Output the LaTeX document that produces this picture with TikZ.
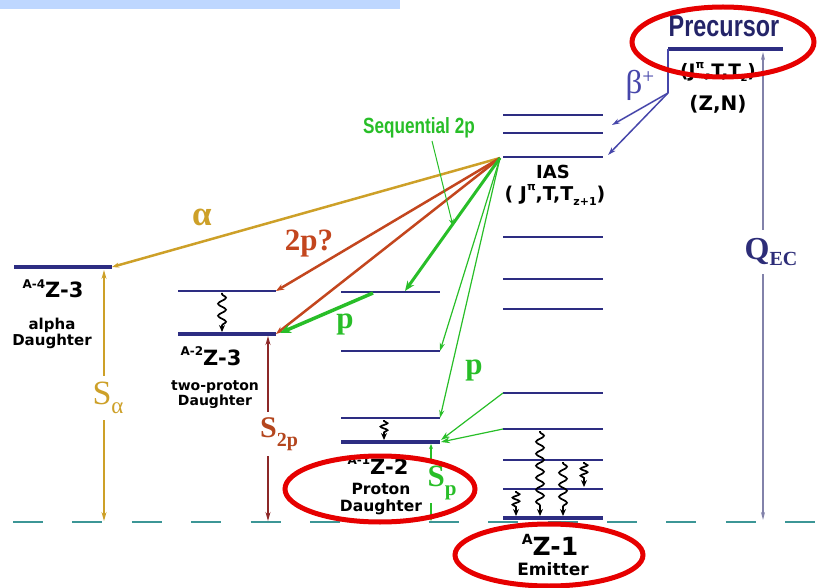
\documentclass[tikz,border=0pt]{standalone}
\usepackage{fontspec}
\setmainfont{Liberation Serif}
\newfontfamily\labfont{DejaVu Sans}
\newfontfamily\narrowfont[FakeStretch=0.78]{Liberation Sans}
\usetikzlibrary{arrows.meta,decorations.pathmorphing}
\definecolor{navy}{RGB}{45,45,130}
\definecolor{teal2}{RGB}{60,150,150}
\definecolor{gold2}{RGB}{205,160,40}
\definecolor{rbrown}{RGB}{195,70,30}
\definecolor{dred}{RGB}{140,40,40}
\definecolor{stwo}{RGB}{180,70,30}
\definecolor{grn}{RGB}{40,190,40}
\definecolor{bblue}{RGB}{70,70,170}
\definecolor{qline}{RGB}{130,130,170}
\definecolor{qtext}{RGB}{45,45,120}
\definecolor{ered}{RGB}{230,0,0}
\definecolor{barblue}{RGB}{190,215,255}
\newcommand\upp[3]{\raisebox{#1}{\fontsize{#2}{#2}\selectfont #3}}
\tikzset{
  lev/.style={navy, line width=2.7pt},
  gnd/.style={navy, line width=4.5pt},
  wavy/.style={black, line width=1.7pt, decorate,
    decoration={snake, amplitude=4pt, segment length=12pt, pre length=1pt, post length=6pt},
    -{Stealth[length=7pt,width=6pt]}},
  wavys/.style={wavy, decoration={snake, amplitude=3.5pt, segment length=7pt, pre length=1pt, post length=6pt}},
  lab/.style={font=\labfont\bfseries, inner sep=0pt, text=black},
  greek/.style={font=\bfseries, inner sep=1pt},
  ellred/.style={ered, line width=5pt},
}
\begin{document}
\begin{tikzpicture}[x=1pt,y=-1pt]
\useasboundingbox (0,0) rectangle (817,588);
\fill[barblue] (0,0) rectangle (400,9);

% baseline
\coordinate (b0) at (13,522);
\coordinate (b1) at (817,522);
\draw[teal2, line width=2pt, dash pattern=on 30pt off 29.4pt] (b0) -- (b1);

% levels: alpha daughter
\draw[gnd] (14,267) coordinate (al) -- (112,267) coordinate (ar);
% two-proton daughter
\draw[lev] (178,291) coordinate (t1l) -- (276,291) coordinate (t1r);
\draw[gnd] (178,334) coordinate (t0l) -- (276,334) coordinate (t0r);
% proton daughter
\draw[lev] (341,292) coordinate (p3l) -- (440,292) coordinate (p3r);
\draw[lev, line width=2pt] (341,351) coordinate (p2l) -- (440,351) coordinate (p2r);
\draw[lev] (341,418) coordinate (p1l) -- (440,418) coordinate (p1r);
\draw[gnd] (341,442) coordinate (p0l) -- (440,442) coordinate (p0r);
% emitter column
\foreach \y/\n in {115/e12,133/e11,157/ias,237/e9,279/e8,309/e7,393/e6,429/e5,460/e4,489/e3}{
  \draw[lev] (503,\y) coordinate (\n l) -- (603,\y) coordinate (\n r);
}
\draw[gnd] (503,518) coordinate (e0l) -- (603,518) coordinate (e0r);
% precursor
\draw[navy, line width=4pt] (668,49) coordinate (prl) -- (783,49) coordinate (prr);

% gamma cascades
\draw[wavy] (222,293) -- (222,332);
\draw[wavys] (384,420) -- (384,440);
\draw[wavy] (540,431) -- (540,516);
\draw[wavy] (563,462) -- (563,516);
\draw[wavys] (584,462) -- (584,487);
\draw[wavys] (516,491) -- (516,516);

% emission point
\coordinate (E) at (500,158);
% alpha
\draw[gold2, line width=2.5pt, -{Stealth[length=7pt,width=5pt]}] (E) -- (ar);
\node[greek, text=gold2, font=\bfseries\fontsize{35}{35}\selectfont] (alab) at (202,217) {α};
% 2p?
\draw[rbrown, line width=2.5pt, -{Stealth[length=8pt,width=6pt]}] (E) -- (t1r);
\draw[rbrown, line width=2.5pt, -{Stealth[length=8pt,width=6pt]}] (E) -- (t0r);
\node[greek, text=rbrown, font=\bfseries\fontsize{31}{31}\selectfont] (twop) at (309,244) {2p?};
% sequential 2p
\coordinate (s1) at (405,291);
\draw[grn, line width=3pt, -{Stealth[length=10pt,width=8pt]}] (E) -- (s1);
\coordinate (s2a) at (373,293);
\coordinate (s2b) at (280,333);
\draw[grn, line width=3.5pt, -{Stealth[length=11pt,width=9pt]}] (s2a) -- (s2b);
\node[greek, text=grn, font=\bfseries\fontsize{31}{31}\selectfont] (plab1) at (345,324) {p};
\node[font=\narrowfont\bfseries\fontsize{22}{22}\selectfont, text=grn, inner sep=0pt] (seq) at (419,128) {Sequential 2p};
\coordinate (seqt) at (453,226);
\draw[grn, line width=1pt, -{Stealth[length=7pt,width=5pt]}] (432,141) -- (seqt);
% single protons
\draw[grn, line width=1.2pt, -{Stealth[length=8pt,width=5pt]}] (E) -- (p2r);
\draw[grn, line width=1.2pt, -{Stealth[length=8pt,width=5pt]}] (E) -- (p1r);
\node[greek, text=grn, font=\bfseries\fontsize{31}{31}\selectfont] (plab2) at (474,370) {p};
\draw[grn, line width=1.2pt, -{Stealth[length=9pt,width=6pt]}] (e6l) -- (441,440);
\draw[grn, line width=1.2pt, -{Stealth[length=9pt,width=6pt]}] (e5l) -- (441,442);

% beta+
\coordinate (bk) at (668,93);
\draw[bblue, line width=1.5pt] (prl) -- (bk);
\draw[bblue, line width=1.5pt, -{Stealth[length=8pt,width=5pt]}] (bk) -- (612,125);
\draw[bblue, line width=1.5pt, -{Stealth[length=8pt,width=5pt]}] (bk) -- (608,155);
\node[text=bblue, font=\fontsize{33}{33}\selectfont, inner sep=0pt] (beta) at (640,85) {β\upp{0.3em}{21}{+}};

% Q_EC
\draw[qline, line width=1.5pt, {Stealth[length=8pt,width=4pt]}-{Stealth[length=8pt,width=4pt]}] (763,52) -- (763,520);
\node[fill=white, inner xsep=1pt, inner ysep=8pt, text=qtext, font=\bfseries\fontsize{32}{32}\selectfont] (qec) at (771,252) {Q\upp{-0.2em}{20}{EC}};

% S_alpha
\draw[gold2, line width=1.2pt, {Stealth[length=9pt,width=5pt]}-{Stealth[length=9pt,width=5pt]}] (104,270) -- (104,521);
\node[fill=white, inner xsep=0pt, inner ysep=6pt, text=gold2, font=\fontsize{34}{34}\selectfont] (salpha) at (108,398) {S\upp{-0.25em}{23}{α}};
% S_2p
\draw[dred, line width=1.2pt, {Stealth[length=9pt,width=5pt]}-{Stealth[length=9pt,width=5pt]}] (268,336) -- (268,521);
\node[fill=white, inner xsep=0pt, inner ysep=5pt, text=stwo, font=\bfseries\fontsize{30}{30}\selectfont] (stwop) at (279,434) {S\upp{-0.3em}{20}{2p}};
% S_p
\draw[grn, line width=1.2pt, {Stealth[length=5pt,width=4pt]}-{Stealth[length=5pt,width=4pt]}] (431,444) -- (431,521);
\node[fill=white, inner xsep=0pt, inner ysep=3pt, text=grn, font=\bfseries\fontsize{31}{31}\selectfont] (sp) at (442,483) {S\upp{-0.3em}{21}{p}};

% labels
\node[inner sep=0pt, text=navy!80!black, font=\narrowfont\bfseries\fontsize{30}{30}\selectfont] (prec) at (724,26) {Precursor};
\node[lab, font=\labfont\bfseries\fontsize{18.5}{18.5}\selectfont] (prq) at (718,72) {(J\upp{0.5em}{11}{π},T,T\upp{-0.25em}{11}{z})};
\node[lab, font=\labfont\bfseries\fontsize{20}{20}\selectfont] (zn) at (718,104) {(Z,N)};
\node[lab, font=\labfont\bfseries\fontsize{18}{18}\selectfont] (iasl) at (553,172) {IAS};
\node[lab, font=\labfont\bfseries\fontsize{19}{19}\selectfont] (iasq) at (555,195) {( J\upp{0.5em}{11}{π},T,T\upp{-0.25em}{11}{z+1})};

\node[lab, font=\labfont\bfseries\fontsize{21}{21}\selectfont] (ad) at (53,289) {\upp{0.45em}{12}{A-4}Z-3};
\node[lab, font=\labfont\bfseries\fontsize{15}{15}\selectfont, align=center] (ad2) at (52,333) {alpha\\[1pt]Daughter};
\node[lab, font=\labfont\bfseries\fontsize{21}{21}\selectfont] (td) at (211,356) {\upp{0.45em}{12}{A-2}Z-3};
\node[lab, font=\labfont\bfseries\fontsize{14}{14}\selectfont, align=center] (td2) at (215,395) {two-proton\\[1pt]Daughter};
\node[lab, font=\labfont\bfseries\fontsize{21}{21}\selectfont] (pd) at (378,465) {\upp{0.45em}{12}{A-1}Z-2};
\node[lab, font=\labfont\bfseries\fontsize{15.5}{15.5}\selectfont, align=center] (pd2) at (381,499) {Proton\\[2pt]Daughter};
\node[lab, font=\labfont\bfseries\fontsize{25}{25}\selectfont] (em) at (550,545) {\upp{0.45em}{14}{A}Z-1};
\node[lab, font=\labfont\bfseries\fontsize{17}{17}\selectfont] (em2) at (553,569) {Emitter};

% red ellipses
\draw[ellred] (723,42) ellipse [x radius=91, y radius=35];
\draw[ellred] (380,489) ellipse [x radius=95, y radius=33];
\draw[ellred] (549,555) ellipse [x radius=94, y radius=31];
\end{tikzpicture}
\end{document}
